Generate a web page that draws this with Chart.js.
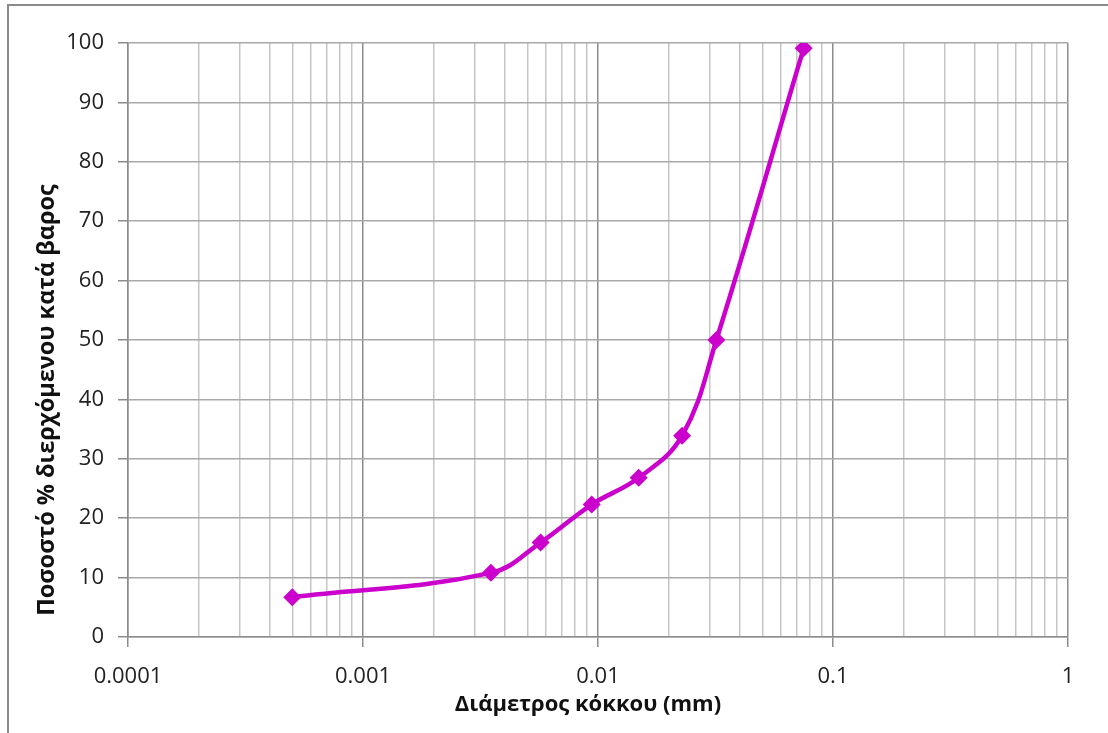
<!DOCTYPE html>
<html>
<head>
<meta charset="utf-8">
<script src="https://cdn.jsdelivr.net/npm/chart.js@4/dist/chart.umd.min.js"></script>
<style>
  html, body { margin: 0; padding: 0; background: #ffffff; }
  #wrap { width: 1108px; height: 733px; position: relative; }
</style>
</head>
<body>
<div id="wrap"><canvas id="chart"></canvas></div>
<script>
// Grain size distribution (hydrometer analysis)
const diameters = [0.0005, 0.0035, 0.0057, 0.0094, 0.0149, 0.0228, 0.0319, 0.075];
const percentPassing = [6.7, 10.8, 15.9, 22.3, 26.8, 33.9, 50.0, 99.1];
const decadeLabels = ['0.0001', '0.001', '0.01', '0.1', '1'];
const xTitle = 'Διάμετρος κόκκου (mm)';
const yTitle = 'Ποσοστό % διερχόμενου κατά βαρος';

const FONT = '"Open Sans", "Noto Sans", sans-serif';
const LINE_COLOR = '#CC00CC';

function isDecade(v) {
  const l = Math.log10(v);
  return Math.abs(l - Math.round(l)) < 1e-6;
}

// Outer frame and white background
const framePlugin = {
  id: 'frame',
  beforeDraw(chart) {
    const ctx = chart.ctx;
    ctx.save();
    ctx.fillStyle = '#ffffff';
    ctx.fillRect(0, 0, chart.width, chart.height);
    ctx.strokeStyle = '#8a8a8a';
    ctx.lineWidth = 2;
    ctx.beginPath();
    ctx.moveTo(8, chart.height);
    ctx.lineTo(8, 5);
    ctx.lineTo(chart.width, 5);
    ctx.stroke();
    ctx.restore();
  }
};

// Axis titles, placed like the spreadsheet layout
const axisTitlePlugin = {
  id: 'axisTitles',
  afterDraw(chart) {
    const ctx = chart.ctx;
    ctx.save();
    ctx.fillStyle = '#111111';
    ctx.textAlign = 'center';
    ctx.textBaseline = 'middle';
    ctx.font = 'bold 22px ' + FONT;
    ctx.fillText(xTitle, 588, 705);
    ctx.translate(47, 400);
    ctx.rotate(-Math.PI / 2);
    ctx.font = 'bold 23.5px ' + FONT;
    ctx.fillText(yTitle, 0, 0);
    ctx.restore();
  }
};

const points = diameters.map((d, i) => ({ x: d, y: percentPassing[i] }));

new Chart(document.getElementById('chart'), {
  type: 'line',
  data: {
    datasets: [{
      data: points,
      borderColor: LINE_COLOR,
      backgroundColor: LINE_COLOR,
      borderWidth: 4.5,
      tension: 0.4,
      pointStyle: 'rectRot',
      pointRadius: 9,
      pointHoverRadius: 9,
      pointBorderWidth: 0,
      fill: false
    }]
  },
  options: {
    responsive: true,
    maintainAspectRatio: false,
    animation: false,
    layout: { padding: { left: 31, top: 43, right: 40, bottom: 12 } },
    plugins: {
      legend: { display: false },
      tooltip: { enabled: false }
    },
    scales: {
      x: {
        type: 'logarithmic',
        min: 0.0001,
        max: 1,
        afterBuildTicks(scale) {
          const ticks = [];
          for (let e = -4; e <= 0; e++) {
            for (let m = 1; m <= 9; m++) {
              const v = Number((m * Math.pow(10, e)).toPrecision(6));
              if (v <= 1) ticks.push({ value: v });
            }
          }
          scale.ticks = ticks;
        },
        afterFit(scale) { scale.height = 84; },
        ticks: {
          autoSkip: false,
          maxRotation: 0,
          minRotation: 0,
          padding: 17,
          color: '#222222',
          font: { family: FONT, size: 22 },
          callback(value) {
            if (!isDecade(value)) return '';
            const idx = Math.round(Math.log10(value)) + 4;
            return decadeLabels[idx];
          }
        },
        grid: {
          drawOnChartArea: true,
          tickLength: 10,
          color(ctx) {
            return ctx.tick && isDecade(ctx.tick.value) ? '#8c8c8c' : '#c6c6c6';
          },
          tickColor(ctx) {
            return ctx.tick && isDecade(ctx.tick.value) ? '#8c8c8c' : 'rgba(0,0,0,0)';
          },
          lineWidth: 1.5
        },
        border: { color: '#8c8c8c', width: 1.5 }
      },
      y: {
        type: 'linear',
        min: 0,
        max: 100,
        afterFit(scale) { scale.width = 97; },
        ticks: {
          stepSize: 10,
          padding: 14,
          color: '#222222',
          font: { family: FONT, size: 22 }
        },
        grid: {
          color: '#a8a8a8',
          tickColor: '#8c8c8c',
          tickLength: 10,
          lineWidth: 1.5
        },
        border: { color: '#8c8c8c', width: 1.5 }
      }
    }
  },
  plugins: [framePlugin, axisTitlePlugin]
});
</script>
</body>
</html>
